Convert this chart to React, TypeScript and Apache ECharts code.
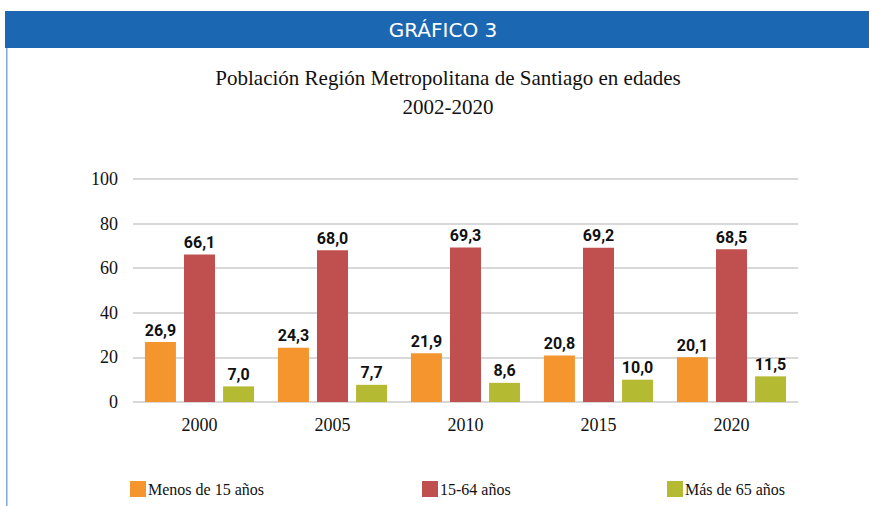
import React, { useEffect, useRef } from "react";
import * as echarts from "echarts";

const years = ["2000", "2005", "2010", "2015", "2020"];
const menos15 = [26.9, 24.3, 21.9, 20.8, 20.1];
const entre15y64 = [66.1, 68.0, 69.3, 69.2, 68.5];
const mas65 = [7.0, 7.7, 8.6, 10.0, 11.5];
const seriesNames = ["Menos de 15 años", "15-64 años", "Más de 65 años"];
const colors = ["#F4952E", "#C0504F", "#B5BA33"];

const SERIF = "'Liberation Serif', 'DejaVu Serif', serif";
const NARROW = "Roboto, 'DejaVu Sans Condensed', sans-serif";

export default function App() {
  const ref = useRef<HTMLDivElement>(null);
  useEffect(() => {
    if (!ref.current) return;
    const chart = echarts.init(ref.current, undefined, { renderer: "svg" });
    const label = {
      show: true,
      position: "top" as const,
      distance: 4,
      fontFamily: NARROW,
      fontWeight: "bold" as const,
      fontSize: 16,
      color: "#111",
      formatter: (p: any) => Number(p.value).toFixed(1).replace(".", ","),
    };
    const datasets = [menos15, entre15y64, mas65];
    const legendLefts = [125, 417, 662];
    chart.setOption({
      animation: false,
      backgroundColor: "#fff",
      title: [
        {
          text: "Población Región Metropolitana de Santiago en edades\n2002-2020",
          left: 443,
          textAlign: "center",
          top: 58,
          textStyle: {
            fontFamily: SERIF,
            fontWeight: "normal",
            fontSize: 21,
            lineHeight: 29,
            color: "#111",
          },
        },
      ],
      graphic: [
        {
          type: "rect",
          shape: { x: 5, y: 11, width: 864, height: 37 },
          style: { fill: "#1B67B1" },
          silent: true,
        },
        {
          type: "rect",
          shape: { x: 6, y: 48, width: 1.5, height: 460 },
          style: { fill: "#7FA8D6" },
          silent: true,
        },
        {
          type: "text",
          x: 443,
          y: 30,
          style: {
            text: "GRÁFICO 3",
            fill: "#fff",
            fontFamily: "'DejaVu Sans', 'Open Sans', sans-serif",
            fontSize: 20,
            align: "center",
            verticalAlign: "middle",
          },
        },
      ],
      legend: seriesNames.map((n, i) => ({
        data: [n],
        left: legendLefts[i],
        top: 476,
        itemWidth: 16,
        itemHeight: 16,
        itemGap: 0,
        icon: "rect",
        textStyle: { fontFamily: SERIF, fontSize: 16, color: "#111", padding: [0, 0, 0, -3] },
        selectedMode: false,
      })),
      grid: { left: 133, right: 71, top: 179, bottom: 104, containLabel: false },
      xAxis: {
        type: "category",
        data: years,
        axisLine: { show: false },
        axisTick: { show: false },
        axisLabel: { fontFamily: SERIF, fontSize: 18, color: "#111", margin: 14 },
      },
      yAxis: {
        type: "value",
        min: 0,
        max: 100,
        interval: 20,
        axisLine: { show: false },
        axisTick: { show: false },
        axisLabel: { fontFamily: SERIF, fontSize: 18, color: "#111", margin: 15 },
        splitLine: { lineStyle: { color: "#CBCBCB", width: 1.5 } },
      },
      series: datasets.map((d, i) => ({
        name: seriesNames[i],
        type: "bar",
        data: d,
        barWidth: 31,
        barGap: "26%",
        itemStyle: { color: colors[i] },
        label,
      })),
    });
    return () => chart.dispose();
  }, []);
  return (
    <div
      ref={ref}
      style={{ position: "fixed", left: 0, top: 0, width: 869, height: 506 }}
    />
  );
}
